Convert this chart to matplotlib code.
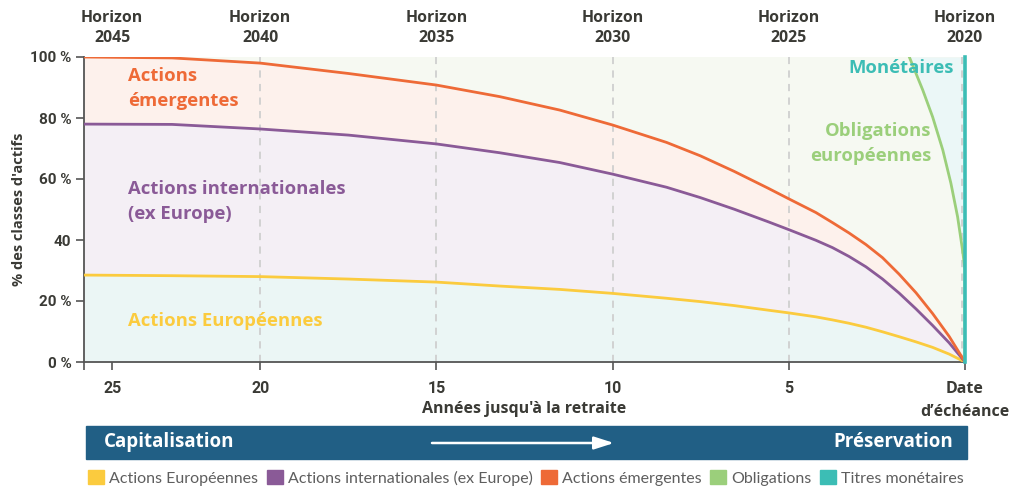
import numpy as np
import matplotlib
matplotlib.use("Agg")
import matplotlib.pyplot as plt
from matplotlib.patches import Rectangle, Patch, FancyArrowPatch
import matplotlib.transforms as mtransforms

plt.rcParams['font.family'] = ['Open Sans', 'DejaVu Sans']

# years until retirement
years = [25, 22.5, 20, 17.5, 15, 13.2, 11.5, 10, 8.47, 7.51, 6.55, 5.59, 5, 4.23, 3.76, 3.29,
         2.81, 2.34, 1.87, 1.39, 0.92, 0.45, 0]
# cumulative allocation (%)
europe = [28.5, 28.3, 28.0, 27.2, 26.2, 24.9, 23.8, 22.5, 20.9, 19.8, 18.5, 17.0, 16.1, 14.8, 13.8, 12.7,
          11.4, 9.9, 8.3, 6.6, 4.8, 2.6, 0]
intl = [78.0, 77.9, 76.4, 74.4, 71.5, 68.6, 65.4, 61.6, 57.3, 53.9, 50.1, 46.0, 43.4, 39.9, 37.5, 34.6,
        31.2, 27.2, 22.6, 17.4, 12.0, 6.3, 0]
emerg = [100, 99.7, 98.0, 94.6, 90.8, 87.0, 82.6, 77.7, 72.0, 67.6, 62.5, 57.0, 53.5, 49.0, 45.7, 42.3,
         38.5, 34.2, 28.8, 22.7, 15.9, 8.4, 0]
# obligations upper boundary near maturity
oblig_years = [1.58, 1.2, 0.92, 0.63, 0.4, 0.21, 0.07, 0, 0]
oblig = [100, 89.2, 80.4, 69.5, 58.6, 47.6, 36.7, 30.2, 0]

tick_pos = [24.2, 20, 15, 10, 5, 0]
tick_lab = ['25', '20', '15', '10', '5', 'Date\nd\u2019\u00e9ch\u00e9ance']
horizons = ['Horizon\n2045', 'Horizon\n2040', 'Horizon\n2035', 'Horizon\n2030', 'Horizon\n2025', 'Horizon\n2020']
yticks = [0, 20, 40, 60, 80, 100]
ylabs = ['0 %', '20 %', '40', '60 %', '80 %', '100 %']

legend_labels = ['Actions Europ\u00e9ennes', 'Actions internationales (ex Europe)',
                 'Actions \u00e9mergentes', 'Obligations', 'Titres mon\u00e9taires']

YEL = '#fbcb3e'
PUR = '#8a5a97'
ORA = '#ee6a37'
GRE = '#9bcf7b'
TEA = '#3cbdb5'
DARK = '#3a3a35'

fig = plt.figure(figsize=(10.13, 4.88), dpi=100)
ax = fig.add_axes([84/1013, 1-362/488, 881/1013, 305/488])

ax.set_facecolor('#f6f9f2')
ax.fill_between(years, 0, europe, color='#ebf6f5', lw=0)
ax.fill_between(years, europe, intl, color='#f4eff5', lw=0)
ax.fill_between(years, intl, emerg, color='#fdf1ec', lw=0)
ax.fill_betweenx(oblig, oblig_years, 0, color='#ebf7f7', lw=0)

for xg in [20, 15, 10, 5, 0.08]:
    ax.axvline(xg, color='#cfcfcf', lw=1.3, ls=(0, (4, 3.5)), zorder=2)

ax.plot(years, europe, color=YEL, lw=2, zorder=3, solid_joinstyle='round')
ax.plot(years, intl, color=PUR, lw=2, zorder=3, solid_joinstyle='round')
ax.plot(years, emerg, color=ORA, lw=2, zorder=3, solid_joinstyle='round')
ax.plot(oblig_years, oblig, color=GRE, lw=2, zorder=3, solid_joinstyle='round')
ax.plot([0, 0], [0, 100], color=TEA, lw=2.6, zorder=4, clip_on=False)

ax.set_xlim(25, 0)
ax.set_ylim(0, 100)
for s in ['top', 'right']:
    ax.spines[s].set_visible(False)
for s in ['left', 'bottom']:
    ax.spines[s].set_color('#555555')
    ax.spines[s].set_linewidth(1.3)

ax.set_xticks([25] + tick_pos)
ax.set_xticklabels([''] + tick_lab, fontsize=11.5, fontweight='bold', color=DARK)
for lab in ax.get_xticklabels()[1:-1]:
    lab.set_family('Roboto')
ax.get_xticklabels()[-1].set_linespacing(1.55)
ax.set_yticks(yticks)
ax.set_yticklabels(ylabs, fontsize=11, fontweight='bold', color=DARK, family='Roboto')
ax.tick_params(axis='x', length=6, width=1.2, color='#555555', pad=8)
ax.tick_params(axis='y', length=6, width=1.2, color='#555555', pad=3)

ax.text(0.5, -0.154, "Ann\u00e9es jusqu'\u00e0 la retraite", transform=ax.transAxes, ha='center',
        va='center', fontsize=11.5, fontweight='bold', color=DARK)
ax.set_ylabel("% des classes d'actifs", fontsize=10.5, fontweight='bold', color=DARK, labelpad=3)

trans = mtransforms.blended_transform_factory(ax.transData, ax.transAxes)
for xp, h in zip(tick_pos, horizons):
    ax.text(xp, 1.096, h, transform=trans, ha='center', va='center', fontsize=11.4,
            fontweight='bold', color=DARK, linespacing=1.3)

ax.text(23.75, 89.8, 'Actions\n\u00e9mergentes', color=ORA, fontsize=13.3, fontweight='bold',
        va='center', ha='left', linespacing=1.5)
ax.text(23.75, 52.5, 'Actions internationales\n(ex Europe)', color=PUR, fontsize=13.3,
        fontweight='bold', va='center', ha='left', linespacing=1.5)
ax.text(23.75, 13.5, 'Actions Europ\u00e9ennes', color=YEL, fontsize=13.3, fontweight='bold',
        va='center', ha='left')
ax.text(0.31, 96.4, 'Mon\u00e9taires', color=TEA, fontsize=13.3, fontweight='bold',
        va='center', ha='right')
ax.text(0.95, 71.8, 'Obligations\neurop\u00e9ennes', color=GRE, fontsize=13.3, fontweight='bold',
        va='center', ha='right', linespacing=1.5)

# banner
fig.patches.append(Rectangle((86/1013, 1-459/488), 881/1013, 33/488, transform=fig.transFigure,
                             color='#215f85', zorder=0))
fig.patches.append(FancyArrowPatch((432/1013, 1-443/488), (614/1013, 1-443/488),
                                   transform=fig.transFigure, arrowstyle='-|>,head_length=1.0,head_width=0.32',
                                   mutation_scale=12, color='white', lw=1.8, shrinkA=0, shrinkB=0))
fig.text(104/1013, 1-442/488, 'Capitalisation', color='white', fontsize=13.5, fontweight='bold',
         va='center', ha='left')
fig.text(953/1013, 1-442/488, 'Pr\u00e9servation', color='white', fontsize=13.5, fontweight='bold',
         va='center', ha='right')

handles = [Patch(color=c) for c in [YEL, PUR, ORA, GRE, TEA]]
fig.legend(handles, legend_labels, loc='center', bbox_to_anchor=(526/1013, 1-478/488), ncol=5,
           frameon=False, handlelength=1.0, handleheight=1.0, handletextpad=0.3, columnspacing=0.55,
           prop={'family': 'Lato', 'size': 11.5}, labelcolor='#5e5e5e', borderaxespad=0)

fig.savefig('out.png', dpi=100)
